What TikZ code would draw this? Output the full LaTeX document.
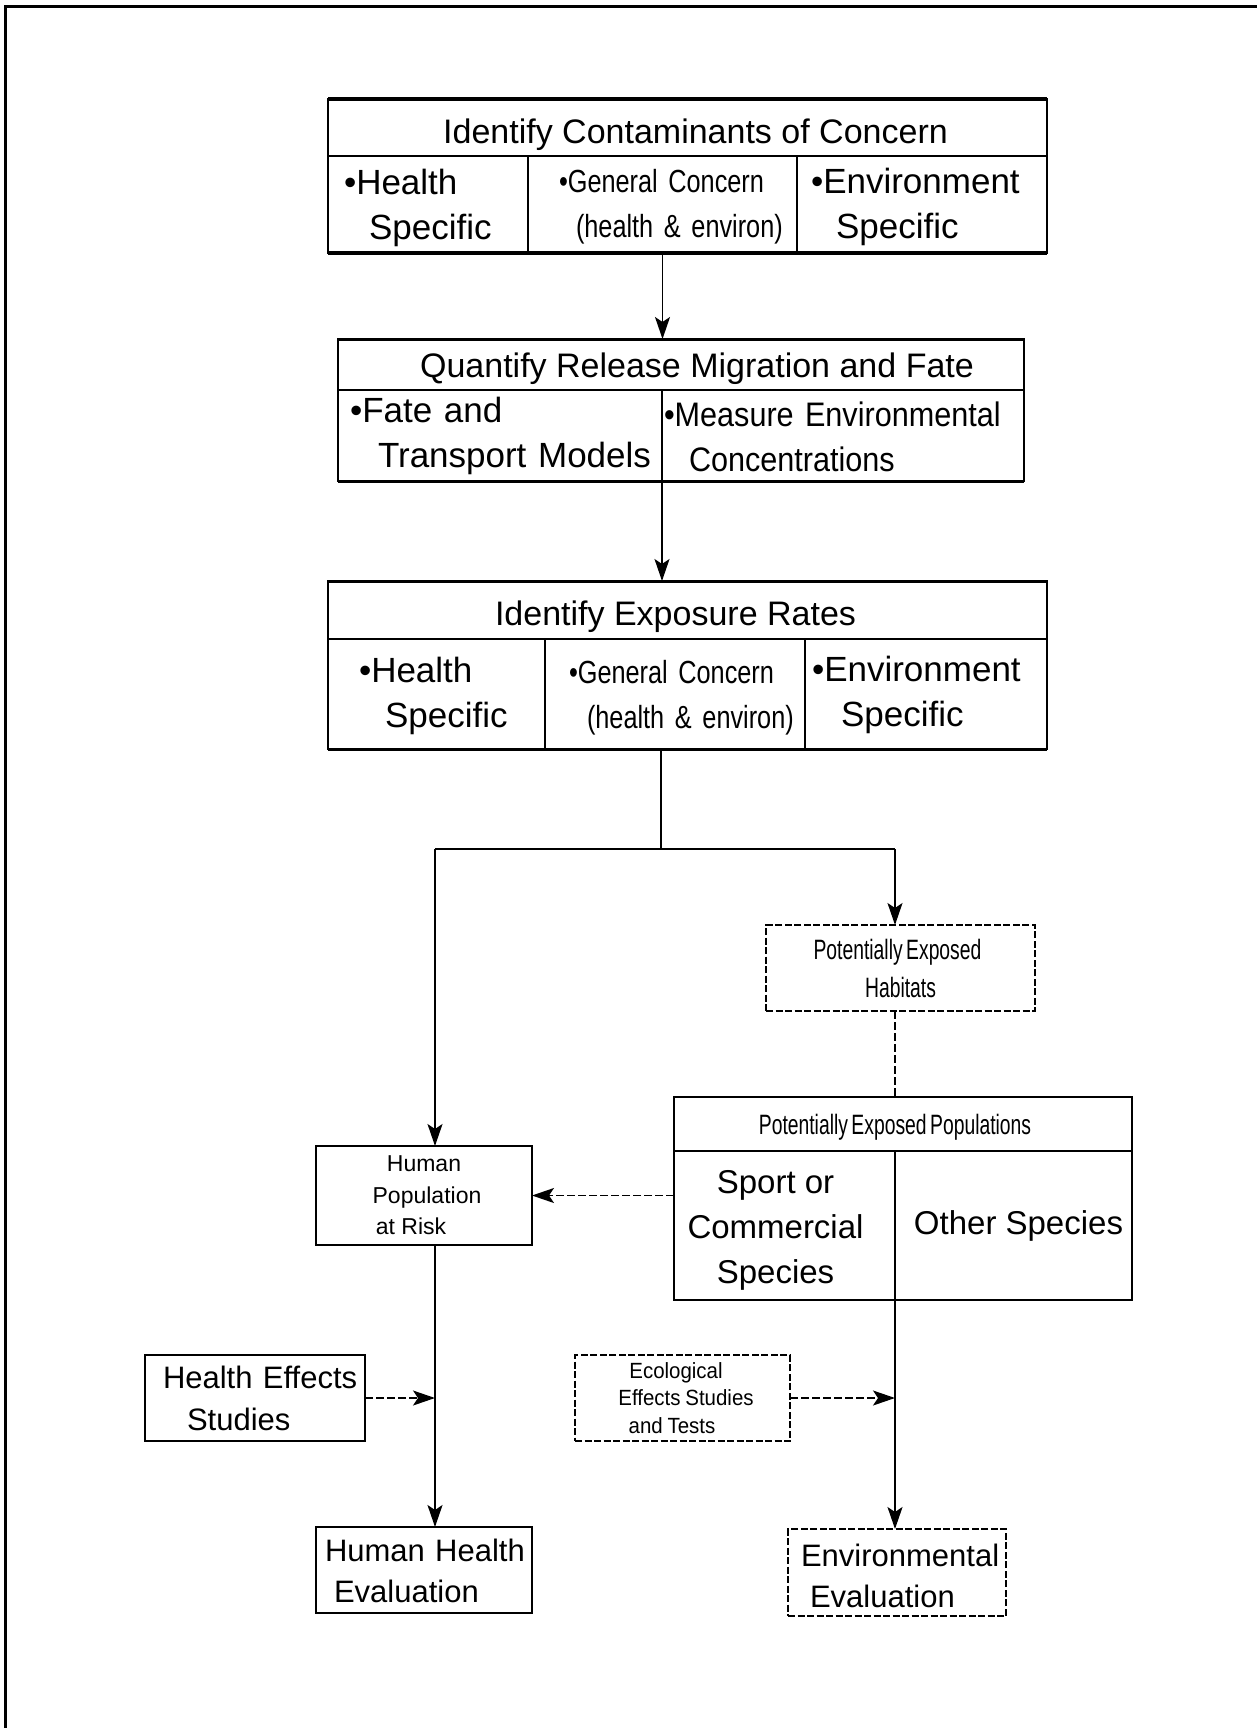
\documentclass[tikz,border=0pt]{standalone}
\usepackage{fontspec}
\setmainfont{Liberation Sans}
\newfontfamily\condA[FakeStretch=0.79,WordSpace=0.7]{Liberation Sans}
\newfontfamily\condB[FakeStretch=0.69,WordSpace=0.65]{Liberation Sans}
\newfontfamily\condC[FakeStretch=0.93,WordSpace=0.85]{Liberation Sans}
\newfontfamily\condD[FakeStretch=0.9,WordSpace=0.85]{Liberation Sans}
\usetikzlibrary{arrows.meta}
\newcommand{\up}[1]{\rule{0pt}{#1}}
\begin{document}
\begin{tikzpicture}[x=1pt,y=-1pt,
  box/.style={draw, line width=1.7pt, rectangle, inner sep=0pt, outer sep=0pt},
  bigbox/.style={box, line width=2.2pt},
  dbox/.style={box, line width=1.5pt, dash pattern=on 7pt off 2.5pt},
  bigfont/.style={font=\fontsize{35pt}{45pt}\selectfont},
  titlefont/.style={font=\fontsize{34pt}{40pt}\selectfont},
  genfont/.style={font=\condA\fontsize{32pt}{45pt}\selectfont},
  conn/.style={line width=1.6pt},
  dconn/.style={conn, dash pattern=on 8pt off 3pt},
  tip/.style={-{Stealth[length=22pt,width=15pt,inset=5pt]}},
]
\useasboundingbox (0,0) rectangle (1256,1728);
\fill[white] (0,0) rectangle (1256,1728);
% frame
\draw[line width=3pt] (5,1740) -- (5,7) -- (1270,7);

% Box 1
\node[bigbox, minimum width=719pt, minimum height=57pt, titlefont] (c1t) at (687.5,127.5) {\up{40pt}\hspace*{16pt}Identify Contaminants of Concern};
\node[bigbox, minimum width=200pt, minimum height=97pt, text width=200pt, align=left, bigfont] (c1a) at (428,204.5) {\up{32pt}\hspace*{16pt}•Health\\ \hspace*{41pt}Specific};
\node[bigbox, minimum width=269pt, minimum height=97pt, text width=269pt, align=left, genfont] (c1b) at (662.5,204.5) {\up{27pt}\hspace*{31pt}•General Concern\\ \hspace*{48pt}(health \& environ)};
\node[bigbox, minimum width=250pt, minimum height=97pt, text width=250pt, align=left, bigfont] (c1c) at (922,204.5) {\up{31pt}\hspace*{14pt}•Environment\\ \hspace*{39pt}Specific};
\draw[line width=3.4pt] (c1t.north west) -- (c1t.north east);
\draw[line width=3.4pt] (c1a.south west) -- (c1c.south east);

% Box 2
\node[bigbox, minimum width=686pt, minimum height=51pt, titlefont] (c2t) at (681,364.5) {\up{34pt}\hspace*{32pt}Quantify Release Migration and Fate};
\node[bigbox, minimum width=324pt, minimum height=91pt, text width=324pt, align=left, bigfont] (c2a) at (500,435.5) {\hspace*{12pt}•Fate and\\ \hspace*{40pt}Transport Models};
\node[bigbox, minimum width=362pt, minimum height=91pt, text width=362pt, align=left, font=\condD\fontsize{34pt}{45pt}\selectfont] (c2b) at (843,435.5) {\up{27pt}\hspace*{2pt}•Measure Environmental\\ \hspace*{27pt}Concentrations};
\draw[line width=3pt] (c2t.north west) -- (c2t.north east);
\draw[line width=3pt] (c2a.south west) -- (c2b.south east);

% Box 3
\node[bigbox, minimum width=719pt, minimum height=58pt, titlefont] (c3t) at (687.5,610) {\up{38pt}\hspace*{-24pt}Identify Exposure Rates};
\node[bigbox, minimum width=217pt, minimum height=110pt, text width=217pt, align=left, bigfont] (c3a) at (436.5,694) {\up{30pt}\hspace*{31pt}•Health\\ \hspace*{57pt}Specific};
\node[bigbox, minimum width=260pt, minimum height=110pt, text width=260pt, align=left, genfont] (c3b) at (675,694) {\up{30pt}\hspace*{24pt}•General Concern\\ \hspace*{42pt}(health \& environ)};
\node[bigbox, minimum width=242pt, minimum height=110pt, text width=242pt, align=left, bigfont] (c3c) at (926,694) {\up{27.5pt}\hspace*{7pt}•Environment\\ \hspace*{36pt}Specific};
\draw[line width=3pt] (c3t.north west) -- (c3t.north east);
\draw[line width=3pt] (c3a.south west) -- (c3c.south east);

% Habitats
\node[dbox, minimum width=269pt, minimum height=86pt, align=center, font=\condB\fontsize{28pt}{38pt}\selectfont] (hab) at (900.5,968) {\hspace*{-6pt}Potentially Exposed\\Habitats};

% Populations
\node[box, minimum width=458pt, minimum height=54pt, font=\condB\fontsize{28pt}{34pt}\selectfont] (popt) at (903,1124) {\up{27pt}\hspace*{-16pt}Potentially Exposed Populations};
\node[box, minimum width=221pt, minimum height=149pt, align=center, font=\fontsize{33pt}{45pt}\selectfont] (popa) at (784.5,1225.5) {\up{32pt}\hspace*{-18pt}Sport or\\ \hspace*{-18pt}Commercial\\ \hspace*{-18pt}Species};
\node[box, minimum width=237pt, minimum height=149pt, font=\fontsize{33pt}{40pt}\selectfont] (popb) at (1013.5,1225.5) {\hspace*{10pt}Other Species};

% Human population at risk
\node[box, minimum width=216pt, minimum height=99pt, align=center, font=\fontsize{23pt}{31.5pt}\selectfont] (hpop) at (424,1195.5) {Human\\ \hspace*{6pt}Population\\ \hspace*{-26pt}at Risk};

% Health effects studies
\node[box, minimum width=220pt, minimum height=86pt, text width=220pt, align=left, font=\fontsize{31pt}{42pt}\selectfont] (hes) at (255,1398) {\hspace*{18pt}Health Effects\\ \hspace*{42pt}Studies};

% Human health evaluation
\node[box, minimum width=216pt, minimum height=86pt, text width=216pt, align=left, font=\fontsize{31pt}{41pt}\selectfont] (hhe) at (424,1570) {\up{25pt}\hspace*{9pt}Human Health\\ \hspace*{18pt}Evaluation};

% Ecological effects studies
\node[dbox, minimum width=215pt, minimum height=86pt, align=center, font=\condC\fontsize{22pt}{27.5pt}\selectfont] (eco) at (682.5,1398) {\hspace*{-13pt}Ecological\\ \hspace*{7pt}Effects Studies\\ \hspace*{-21pt}and Tests};

% Environmental evaluation
\node[dbox, minimum width=218pt, minimum height=87pt, text width=218pt, align=left, font=\fontsize{31pt}{41pt}\selectfont] (env) at (897,1572.5) {\up{29pt}\hspace*{13pt}Environmental\\ \hspace*{22pt}Evaluation};

% junction coordinates
\coordinate (split) at (661,849);
\coordinate (jl) at (435,849);
\coordinate (jr) at (895,849);

% connectors
\draw[conn, tip] (c1b.south) -- (c1b.south |- c2t.north);
\draw[conn, tip] (c2a.south east) -- (c2a.south east |- c3t.north);
\draw[conn] (split |- c3b.south) -- (split);
\draw[conn] (jl) -- (jr);
\draw[conn, tip] (jl) -- (jl |- hpop.north);
\draw[conn, tip] (jr) -- (jr |- hab.north);
\draw[dconn] (jr |- hab.south) -- (jr |- popt.north);
\draw[dconn, tip] (popa.west |- hpop.east) -- (hpop.east);
\draw[conn, tip] (jl |- hpop.south) -- (jl |- hhe.north);
\draw[dconn, tip] (hes.east) -- (jl |- hes.east);
\draw[conn, tip] (jr |- popa.south) -- (jr |- env.north);
\draw[dconn, tip] (eco.east) -- (jr |- eco.east);
\end{tikzpicture}
\end{document}
